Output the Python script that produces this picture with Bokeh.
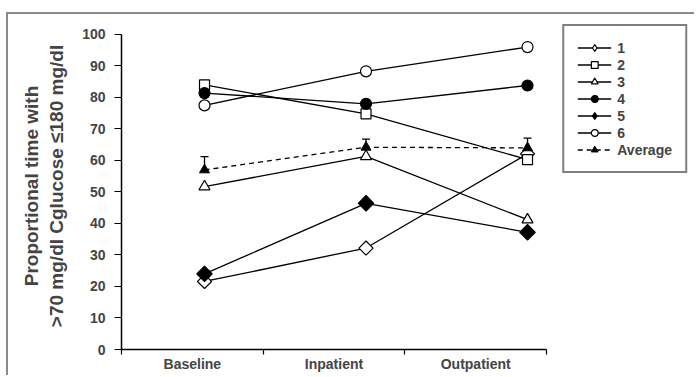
from bokeh.plotting import figure
from bokeh.models import (Range1d, LinearAxis, FixedTicker, Legend, LegendItem)
from bokeh.embed import file_html
from bokeh.resources import INLINE
import math

# ---- data ----
categories = ["Baseline", "Inpatient", "Outpatient"]
time_index = [0, 1, 2]
series_names = ["1", "2", "3", "4", "5", "6"]
s1 = [21.6, 32.2, 62.1]
s2 = [84.0, 74.8, 60.3]
s3 = [51.7, 61.3, 41.2]
s4 = [81.4, 78.0, 83.8]
s5 = [24.0, 46.4, 37.2]
s6 = [77.5, 88.3, 96.0]
average = [57.0, 64.2, 64.0]
average_err = [4.2, 2.6, 3.1]
y_ticks = [0, 10, 20, 30, 40, 50, 60, 70, 80, 90, 100]

FONT = "Liberation Sans"

p = figure(width=688, height=363, output_backend="svg", toolbar_location=None,
           x_range=Range1d(-0.514, 3.003), y_range=Range1d(0, 103.8),
           x_axis_location=None, min_border_left=113, min_border_right=7,
           min_border_top=8, min_border_bottom=28)
p.styles = {"margin-left": "6px", "margin-top": "12px",
            "border-top": "2px solid #8a8a8a", "border-left": "2px solid #8a8a8a"}
p.xgrid.visible = False
p.ygrid.visible = False
p.outline_line_color = None
p.background_fill_color = "white"

# y axis
ya = p.yaxis[0]
ya.bounds = (0, 100)
ya.ticker = FixedTicker(ticks=y_ticks)
ya.minor_tick_line_color = None
ya.major_tick_out = 7
ya.major_tick_in = 0
ya.axis_line_width = 1.5
ya.major_tick_line_width = 1.2
ya.axis_line_color = "black"
ya.major_label_text_font = FONT
ya.major_label_text_font_style = "bold"
ya.major_label_text_font_size = "14px"
ya.major_label_standoff = 9
ya.axis_label = "Proportional time with\n>70 mg/dl Cglucose \u2264180 mg/dl"
ya.axis_label_text_font = FONT
ya.axis_label_text_font_style = "bold"
ya.axis_label_text_font_size = "19px"
ya.axis_label_standoff = 12

# categorical x axis with ticks at boundaries
p.extra_x_ranges = {"cat": Range1d(0, 4.009)}
cat_pos = [i + 0.5 for i in range(len(categories))]
xa = LinearAxis(x_range_name="cat", bounds=(-0.042, len(categories)),
                ticker=FixedTicker(ticks=cat_pos,
                                   minor_ticks=list(range(len(categories) + 1))),
                major_label_overrides={c: lab for c, lab in zip(cat_pos, categories)})
xa.major_tick_out = 0
xa.major_tick_in = 0
xa.minor_tick_out = 5
xa.minor_tick_in = 0
xa.minor_tick_line_color = "black"
xa.minor_tick_line_width = 1.2
xa.axis_line_width = 1.5
xa.axis_line_color = "black"
xa.major_label_text_font = FONT
xa.major_label_text_font_style = "bold"
xa.major_label_text_font_size = "14px"
xa.major_label_standoff = 1
p.add_layout(xa, "below")

items = []
styles = [
    (s1, True, "square", 10, "white"),
    (s2, False, "square", 10, "white"),
    (s3, False, "triangle", 11, "white"),
    (s4, False, "circle", 11, "black"),
    (s5, True, "square", 11, "black"),
    (s6, False, "circle", 11, "white"),
]
for name, (vals, is_diamond, mk, sz, fill) in zip(series_names, styles):
    lr = p.line(time_index, vals, line_color="black", line_width=1.3)
    if is_diamond:
        # legend glyph (hidden under the rotated square in the plot)
        lg = p.scatter(time_index, vals, marker="diamond", size=sz,
                       fill_color=fill, line_color="black", line_width=1.2)
        p.scatter(time_index, vals, marker="square", angle=math.pi / 4, size=sz,
                  fill_color=fill, line_color="black", line_width=1.2)
        items.append(LegendItem(label=name, renderers=[lr, lg]))
    else:
        sr = p.scatter(time_index, vals, marker=mk, size=sz,
                       fill_color=fill, line_color="black", line_width=1.2)
        items.append(LegendItem(label=name, renderers=[lr, sr]))

# average with upper error bars
upper = [a + e for a, e in zip(average, average_err)]
p.segment(x0=time_index, y0=average, x1=time_index, y1=upper,
          line_color="black", line_width=1.3)
p.scatter(time_index, upper, marker="dash", size=8, line_color="black", line_width=1.3)
lr = p.line(time_index, average, line_color="black", line_width=1.3, line_dash="5 4")
sr = p.scatter(time_index, average, marker="triangle", size=10,
               fill_color="black", line_color="black")
items.append(LegendItem(label="Average", renderers=[lr, sr]))

legend = Legend(items=items, location="top_right", orientation="vertical",
                glyph_width=34, glyph_height=17, label_height=17, spacing=0,
                padding=13, margin=2, label_standoff=6,
                label_text_font=FONT, label_text_font_style="bold",
                label_text_font_size="14px",
                border_line_color="black", border_line_width=2,
                background_fill_color="white", background_fill_alpha=1)
p.add_layout(legend, "center")

open("out.html", "w").write(file_html(p, INLINE))
